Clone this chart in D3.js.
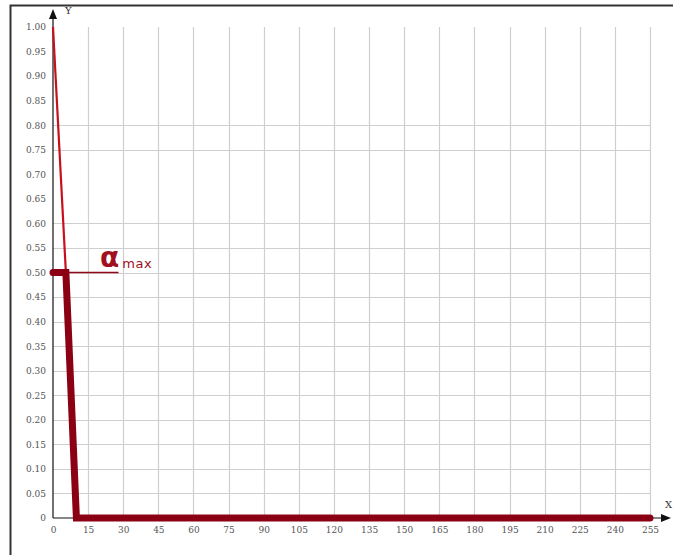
<!DOCTYPE html>
<html>
<head>
<meta charset="utf-8">
<script src="https://cdn.jsdelivr.net/npm/d3@7"></script>
<style>
  html, body { margin: 0; padding: 0; background: #fff; }
  svg { display: block; }
</style>
</head>
<body>
<script>
// Axis tick values
const xTicks = [0, 15, 30, 45, 60, 75, 90, 105, 120, 135, 150, 165, 180, 195, 210, 225, 240, 255];
const yTicks = [0, 0.05, 0.10, 0.15, 0.20, 0.25, 0.30, 0.35, 0.40, 0.45, 0.50,
                0.55, 0.60, 0.65, 0.70, 0.75, 0.80, 0.85, 0.90, 0.95, 1.00];
// Horizontal grid lines that are drawn
const yGrid = [0.05, 0.10, 0.15, 0.20, 0.25, 0.30, 0.35, 0.40, 0.45, 0.50, 0.55, 0.60, 0.75, 0.80];

// Thin descending segment
const thinX = [0, 5.5];
const thinY = [1.00, 0.50];
// Thick curve: plateau at alpha max, drop, then zero
const thickX = [0, 5.5, 10, 255];
const thickY = [0.50, 0.50, 0, 0];
// Alpha max marker line
const alphaMax = 0.50;
const markX = [5.5, 28];

const W = 673, H = 555;
const svg = d3.select("body").append("svg").attr("width", W).attr("height", H);

// Frame
svg.append("path")
  .attr("d", "M10.5,555 L10.5,5.5 L673,5.5")
  .attr("fill", "none").attr("stroke", "#333").attr("stroke-width", 2);

const x = d3.scaleLinear().domain([0, 255]).range([53, 650]);
const y = d3.scaleLinear().domain([0, 1]).range([518, 27]);

// Grid
const grid = svg.append("g").attr("stroke", "#cfcfcf").attr("stroke-width", 1.2);
grid.selectAll("line.v").data(xTicks.filter(d => d > 0)).join("line")
  .attr("class", "v")
  .attr("x1", d => Math.round(x(d)) + 0.5).attr("x2", d => Math.round(x(d)) + 0.5)
  .attr("y1", y(1)).attr("y2", y(0));
grid.selectAll("line.h").data(yGrid).join("line")
  .attr("class", "h")
  .attr("x1", x(0)).attr("x2", x(255))
  .attr("y1", d => Math.round(y(d)) + 0.5).attr("y2", d => Math.round(y(d)) + 0.5);

// Axes
const yAxis = d3.axisLeft(y).tickValues(yTicks).tickSize(0).tickPadding(7)
  .tickFormat(d => d === 0 ? "0" : d3.format(".2f")(d));
const gy = svg.append("g").attr("transform", `translate(${x(0)},0)`).call(yAxis);
gy.select(".domain").remove();

const xAxis = d3.axisBottom(x).tickValues(xTicks).tickSize(0).tickPadding(9)
  .tickFormat(d3.format("d"));
const gx = svg.append("g").attr("transform", `translate(0,${y(0)})`).call(xAxis);
gx.select(".domain").remove();

svg.selectAll(".tick text")
  .attr("font-family", "DejaVu Serif, serif")
  .attr("font-size", 9)
  .attr("fill", "#555");

// Axis lines with arrows
svg.append("line").attr("x1", x(0)).attr("x2", x(0)).attr("y1", y(0)).attr("y2", 18)
  .attr("stroke", "#111").attr("stroke-width", 1.2);
svg.append("path").attr("d", `M${x(0)},9 L${x(0) - 4},19 L${x(0) + 4},19 Z`).attr("fill", "#111");
svg.append("line").attr("x1", x(0)).attr("x2", 662).attr("y1", y(0)).attr("y2", y(0))
  .attr("stroke", "#111").attr("stroke-width", 1.2);
svg.append("path").attr("d", `M671,${y(0)} L661,${y(0) - 4} L661,${y(0) + 4} Z`).attr("fill", "#111");

svg.append("text").attr("x", 65).attr("y", 14).text("Y")
  .attr("font-family", "DejaVu Serif, serif").attr("font-size", 10).attr("fill", "#333");
svg.append("text").attr("x", 665).attr("y", 508).text("X")
  .attr("font-family", "DejaVu Serif, serif").attr("font-size", 10).attr("fill", "#333");

const line = d3.line().x(d => x(d[0])).y(d => y(d[1]));

// Thin segment
svg.append("path")
  .attr("d", line(thinX.map((v, i) => [v, thinY[i]])))
  .attr("fill", "none").attr("stroke", "#c8101c").attr("stroke-width", 2.2);

// Alpha max marker
svg.append("path")
  .attr("d", line(markX.map(v => [v, alphaMax])))
  .attr("fill", "none").attr("stroke", "#8e0a1a").attr("stroke-width", 1.6);

// Thick curve
svg.append("path")
  .attr("d", line(thickX.map((v, i) => [v, thickY[i]])))
  .attr("fill", "none").attr("stroke", "#8b0013").attr("stroke-width", 7)
  .attr("stroke-linejoin", "miter").attr("stroke-linecap", "round");

// Alpha max label
const lab = svg.append("text").attr("x", 100).attr("y", 267)
  .attr("font-family", "DejaVu Sans, sans-serif").attr("fill", "#a0101e");
lab.append("tspan").attr("font-size", 28).attr("font-weight", "bold").text("α");
lab.append("tspan").attr("font-size", 13).attr("dx", 3).attr("dy", 1)
  .attr("letter-spacing", 0.6).text("max");
</script>
</body>
</html>
